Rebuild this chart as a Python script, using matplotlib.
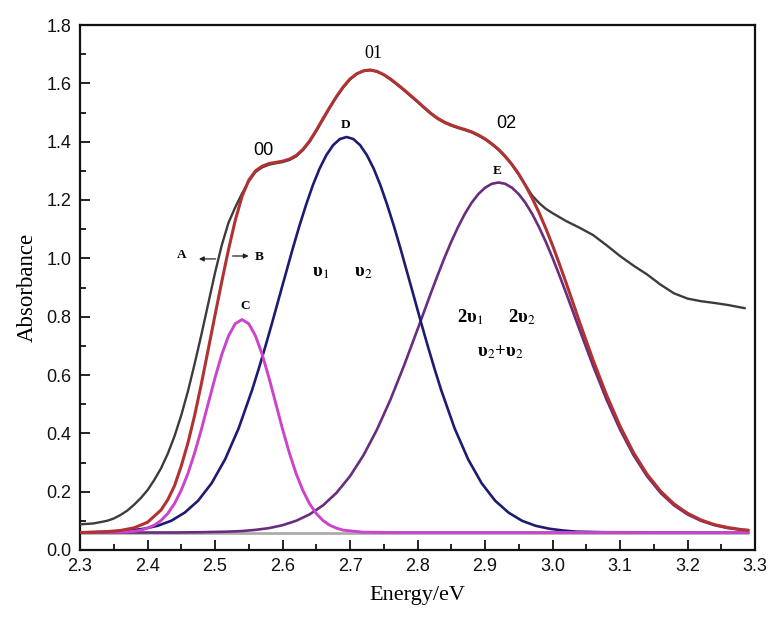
import matplotlib
matplotlib.use("Agg")
import matplotlib.pyplot as plt
from matplotlib.ticker import MultipleLocator, FormatStrFormatter

plt.rcParams['mathtext.fontset'] = 'stix'

# ---------------- data ----------------
# measured spectrum (black)
meas_x = [2.30, 2.32, 2.34, 2.35, 2.36, 2.37, 2.38, 2.39, 2.40, 2.41, 2.42, 2.43, 2.44, 2.45,
          2.46, 2.47, 2.48, 2.49, 2.50, 2.51, 2.52, 2.53, 2.54, 2.55, 2.56, 2.57, 2.58, 2.59,
          2.60, 2.61, 2.62, 2.63, 2.64, 2.65, 2.66, 2.67, 2.68, 2.69, 2.70, 2.71, 2.72, 2.73,
          2.74, 2.75, 2.76, 2.77, 2.78, 2.79, 2.80, 2.81, 2.82, 2.83, 2.84, 2.85, 2.86, 2.87,
          2.88, 2.89, 2.90, 2.91, 2.92, 2.93, 2.94, 2.95, 2.96, 2.97, 2.98, 2.99, 3.00,
          3.02, 3.04, 3.06, 3.08, 3.10, 3.12, 3.14, 3.16, 3.18, 3.20, 3.22, 3.24, 3.26,
          3.285]
meas_y = [0.088, 0.091, 0.100, 0.108, 0.120, 0.135, 0.155, 0.178, 0.205, 0.240, 0.280, 0.330, 0.390, 0.462,
          0.545, 0.640, 0.740, 0.845, 0.950, 1.045, 1.122, 1.175, 1.222, 1.264, 1.296, 1.312, 1.321, 1.326,
          1.330, 1.337, 1.349, 1.370, 1.399, 1.436, 1.476, 1.516, 1.553, 1.586, 1.613, 1.632, 1.642, 1.645,
          1.640, 1.629, 1.613, 1.595, 1.576, 1.556, 1.536, 1.515, 1.495, 1.478, 1.465, 1.455, 1.447, 1.440,
          1.432, 1.421, 1.408, 1.391, 1.372, 1.348, 1.320, 1.287, 1.250, 1.215, 1.190, 1.170, 1.155,
          1.128, 1.105, 1.080, 1.045, 1.008, 0.975, 0.945, 0.910, 0.880, 0.862, 0.853, 0.847, 0.840,
          0.829]

# cumulative fit (red)
fit_x = [2.30, 2.32, 2.34, 2.36, 2.38, 2.40, 2.42, 2.43, 2.44, 2.45, 2.46, 2.47, 2.48, 2.49,
         2.50, 2.51, 2.52, 2.53, 2.54, 2.55, 2.56, 2.57, 2.58, 2.59, 2.60, 2.61, 2.62,
         2.63, 2.64, 2.65, 2.66, 2.67, 2.68, 2.69, 2.70, 2.71, 2.72, 2.73, 2.74, 2.75,
         2.76, 2.77, 2.78, 2.79, 2.80, 2.81, 2.82, 2.83, 2.84, 2.85, 2.86, 2.87, 2.88,
         2.89, 2.90, 2.91, 2.92, 2.93, 2.94, 2.95, 2.96, 2.97, 2.98, 2.99, 3.00, 3.01,
         3.02, 3.03, 3.04, 3.06, 3.08, 3.10, 3.12, 3.14, 3.16, 3.18, 3.20, 3.22, 3.24,
         3.26, 3.28, 3.29]
fit_y = [0.060, 0.061, 0.063, 0.067, 0.076, 0.095, 0.137, 0.172, 0.220, 0.288, 0.368, 0.463, 0.572, 0.688,
         0.805, 0.920, 1.030, 1.130, 1.212, 1.268, 1.300, 1.316, 1.325, 1.329, 1.333, 1.340, 1.352,
         1.373, 1.402, 1.439, 1.479, 1.518, 1.555, 1.588, 1.615, 1.633, 1.643, 1.646, 1.641, 1.630,
         1.615, 1.597, 1.578, 1.558, 1.538, 1.517, 1.497, 1.480, 1.467, 1.457, 1.449, 1.442, 1.434,
         1.423, 1.410, 1.393, 1.374, 1.350, 1.322, 1.289, 1.250, 1.206, 1.157, 1.103, 1.045, 0.982,
         0.917, 0.850, 0.782, 0.652, 0.532, 0.425, 0.334, 0.260, 0.202, 0.158, 0.126, 0.103, 0.087,
         0.077, 0.070, 0.068]

# component C (magenta)
c_x = [2.30, 2.36, 2.38, 2.39, 2.40, 2.41, 2.42, 2.43, 2.44, 2.45, 2.46, 2.47, 2.48,
       2.49, 2.50, 2.51, 2.52, 2.53, 2.54, 2.55, 2.56, 2.57, 2.58, 2.59, 2.60, 2.61,
       2.62, 2.63, 2.64, 2.65, 2.66, 2.67, 2.68, 2.69, 2.72, 2.76, 3.29]
c_y = [0.060, 0.061, 0.064, 0.068, 0.075, 0.085, 0.101, 0.125, 0.159, 0.205, 0.263, 0.334, 0.415,
       0.503, 0.590, 0.670, 0.734, 0.776, 0.790, 0.776, 0.734, 0.670, 0.590, 0.503, 0.415, 0.334,
       0.263, 0.205, 0.159, 0.125, 0.101, 0.085, 0.075, 0.068, 0.061, 0.060, 0.060]

# component D (navy)
d_x = [2.30, 2.315, 2.335, 2.355, 2.375, 2.395, 2.415, 2.435, 2.455, 2.475, 2.495, 2.515,
       2.535, 2.555, 2.565, 2.575, 2.585, 2.595, 2.605, 2.615, 2.625, 2.635, 2.645, 2.655,
       2.665, 2.675, 2.685, 2.695, 2.705, 2.715, 2.725, 2.735, 2.745, 2.755, 2.765, 2.775,
       2.785, 2.795, 2.805, 2.815, 2.825, 2.835, 2.855, 2.875, 2.895, 2.915, 2.935, 2.955,
       2.975, 2.995, 3.015, 3.035, 3.055, 3.075, 3.29]
d_y = [0.060, 0.061, 0.062, 0.063, 0.067, 0.073, 0.083, 0.100, 0.128, 0.169, 0.229, 0.311,
       0.417, 0.549, 0.623, 0.701, 0.782, 0.866, 0.949, 1.032, 1.111, 1.184, 1.251, 1.308,
       1.354, 1.388, 1.409, 1.416, 1.409, 1.388, 1.354, 1.308, 1.251, 1.184, 1.111, 1.032,
       0.949, 0.866, 0.782, 0.701, 0.623, 0.549, 0.417, 0.311, 0.229, 0.169, 0.128, 0.100,
       0.083, 0.073, 0.067, 0.063, 0.062, 0.061, 0.060]

# component E (purple)
e_x = [2.30, 2.44, 2.48, 2.52, 2.54, 2.56, 2.58, 2.60, 2.62, 2.64, 2.66, 2.68, 2.70,
       2.72, 2.74, 2.76, 2.78, 2.80, 2.82, 2.83, 2.84, 2.85, 2.86, 2.87, 2.88, 2.89,
       2.90, 2.91, 2.92, 2.93, 2.94, 2.95, 2.96, 2.97, 2.98, 2.99, 3.00, 3.01, 3.02,
       3.04, 3.06, 3.08, 3.10, 3.12, 3.14, 3.16, 3.18, 3.20, 3.22, 3.24, 3.26, 3.28,
       3.29]
e_y = [0.060, 0.060, 0.061, 0.063, 0.065, 0.069, 0.075, 0.085, 0.100, 0.122, 0.153, 0.196, 0.253,
       0.325, 0.413, 0.516, 0.632, 0.756, 0.882, 0.943, 1.002, 1.057, 1.107, 1.152, 1.190, 1.220,
       1.242, 1.2555, 1.260, 1.2555, 1.242, 1.220, 1.190, 1.152, 1.107, 1.057, 1.002, 0.943, 0.882,
       0.756, 0.632, 0.516, 0.413, 0.325, 0.253, 0.196, 0.153, 0.122, 0.100, 0.085, 0.075, 0.069,
       0.067]

baseline_x = [2.30, 3.29]
baseline_y = [0.060, 0.060]

x_ticks = [2.3, 2.4, 2.5, 2.6, 2.7, 2.8, 2.9, 3.0, 3.1, 3.2, 3.3]
y_ticks = [0.0, 0.2, 0.4, 0.6, 0.8, 1.0, 1.2, 1.4, 1.6, 1.8]

# ---------------- figure ----------------
fig = plt.figure(figsize=(7.69, 6.18), dpi=100)
ax = fig.add_axes([80 / 769, 68 / 618, 675 / 769, 525 / 618])

kw = dict(solid_joinstyle='round', solid_capstyle='round')
ax.plot(baseline_x, baseline_y, color='#a8a8a8', lw=1.9, zorder=1, **kw)
ax.plot(e_x, e_y, color='#6a2c7c', lw=1.9, zorder=2, **kw)
ax.plot(d_x, d_y, color='#1c1c70', lw=1.9, zorder=3, **kw)
ax.plot(c_x, c_y, color='#cc44cc', lw=2.1, zorder=4, **kw)
ax.plot(meas_x, meas_y, color='#3c3c3c', lw=1.7, zorder=5, **kw)
ax.plot(fit_x, fit_y, color='#b03232', lw=2.2, zorder=6, **kw)

ax.set_xlim(2.3, 3.3)
ax.set_ylim(0.0, 1.8)
ax.set_xticks(x_ticks)
ax.set_yticks(y_ticks)
ax.xaxis.set_minor_locator(MultipleLocator(0.05))
ax.yaxis.set_minor_locator(MultipleLocator(0.1))
ax.xaxis.set_major_formatter(FormatStrFormatter('%.1f'))
ax.yaxis.set_major_formatter(FormatStrFormatter('%.1f'))

ax.tick_params(which='both', direction='in', top=False, right=False, width=1.3,
               labelsize=13, colors='#111111')
ax.tick_params(which='major', length=7)
ax.tick_params(which='minor', length=4)
for lab in ax.get_xticklabels() + ax.get_yticklabels():
    lab.set_fontfamily('Liberation Sans')
ax.tick_params(axis='x', pad=6)
ax.tick_params(axis='y', pad=6)
for s in ax.spines.values():
    s.set_linewidth(1.6)
    s.set_color('#111111')

ax.set_xlabel('Energy/eV', fontsize=16, family='Liberation Serif', labelpad=8)
ax.set_ylabel('Absorbance', fontsize=16.5, family='Liberation Serif', labelpad=6)

serif = ['Liberation Serif', 'DejaVu Serif']
ax.text(2.571, 1.37, '00', fontsize=13, family='Liberation Sans', ha='center', va='center')
ax.text(2.734, 1.703, '01', fontsize=13, family='Liberation Serif', ha='center', va='center')
ax.text(2.931, 1.463, '02', fontsize=13, family='Liberation Sans', ha='center', va='center')
ax.text(2.694, 1.457, 'D', fontsize=9.5, family='Liberation Serif', weight='bold', ha='center', va='center')
ax.text(2.918, 1.300, 'E', fontsize=9.5, family='Liberation Serif', weight='bold', ha='center', va='center')
ax.text(2.544, 0.837, 'C', fontsize=9.5, family='Liberation Serif', weight='bold', ha='center', va='center')
ax.text(2.451, 1.011, 'A', fontsize=9.5, family='Liberation Serif', weight='bold', ha='center', va='center')
ax.text(2.566, 1.005, 'B', fontsize=9.5, family='Liberation Serif', weight='bold', ha='center', va='center')
ax.annotate('', xy=(2.472, 0.998), xytext=(2.505, 0.998),
            arrowprops=dict(arrowstyle='-|>', color='#222222', lw=0.9, mutation_scale=7))
ax.annotate('', xy=(2.554, 1.008), xytext=(2.522, 1.008),
            arrowprops=dict(arrowstyle='-|>', color='#222222', lw=0.9, mutation_scale=7))

ax.text(2.656, 0.953, 'υ$_1$', fontsize=13.5, family=serif, weight='bold', ha='center', va='center')
ax.text(2.719, 0.953, 'υ$_2$', fontsize=13.5, family=serif, weight='bold', ha='center', va='center')
ax.text(2.878, 0.799, '2υ$_1$', fontsize=13.5, family=serif, weight='bold', ha='center', va='center')
ax.text(2.955, 0.799, '2υ$_2$', fontsize=13.5, family=serif, weight='bold', ha='center', va='center')
ax.text(2.922, 0.679, 'υ$_2$+υ$_2$', fontsize=13.5, family=serif, weight='bold', ha='center', va='center')

fig.savefig('out.png', dpi=100)
